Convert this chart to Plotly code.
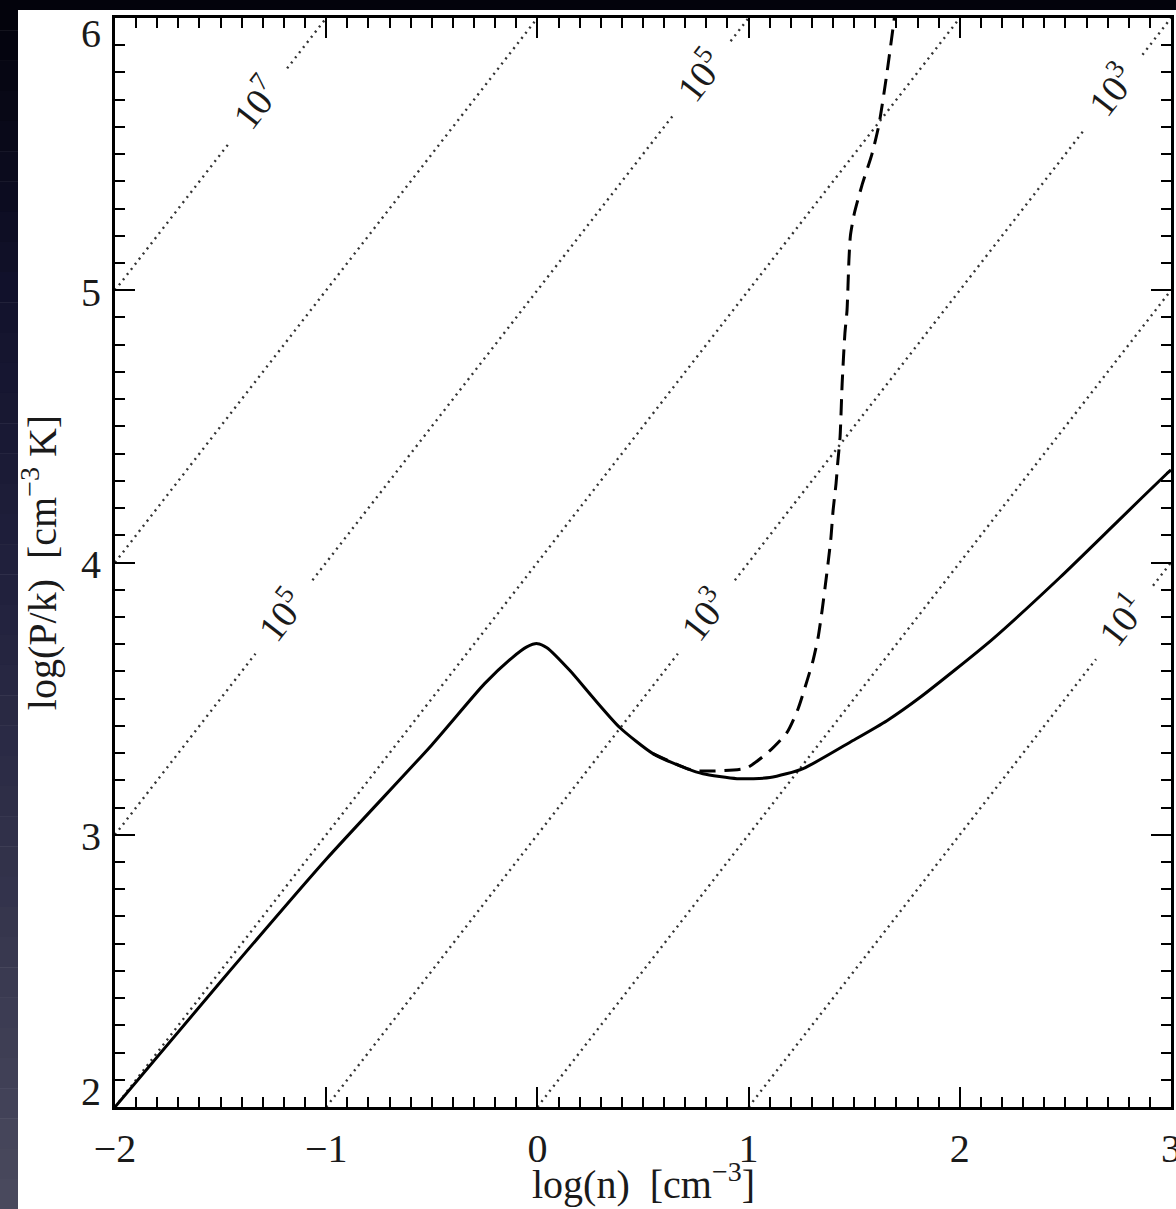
import math
import plotly.graph_objects as go

# ---------------- data ----------------
x_ticks = [-2, -1, 0, 1, 2, 3]
y_ticks = [2, 3, 4, 5, 6]
X_RANGE = [-2, 3]
Y_RANGE = [2, 6]

# thermal equilibrium curve (solid)
solid_logn = [-2.0, -1.5, -1.0, -0.5, -0.25, -0.12, -0.05, 0.0, 0.045, 0.154, 0.263,
              0.391, 0.547, 0.708, 0.784, 0.945, 1.101, 1.258, 1.494, 1.655, 1.811,
              2.15, 2.474, 2.75, 2.981, 3.0]
solid_logP = [2.0, 2.46, 2.91, 3.33, 3.555, 3.65, 3.69, 3.702, 3.687, 3.603, 3.504,
              3.393, 3.298, 3.243, 3.224, 3.206, 3.210, 3.243, 3.346, 3.419, 3.504,
              3.715, 3.945, 4.153, 4.327, 4.34]

# dashed curve
dashed_logn = [0.547, 0.708, 0.756, 0.865, 0.992, 1.101, 1.182, 1.234, 1.277, 1.305,
               1.329, 1.348, 1.362, 1.376, 1.390, 1.400, 1.414, 1.423, 1.433, 1.443,
               1.456, 1.466, 1.475, 1.482, 1.50, 1.537, 1.584, 1.617, 1.655, 1.69]
dashed_logP = [3.298, 3.243, 3.235, 3.235, 3.246, 3.309, 3.376, 3.462, 3.566, 3.640,
               3.724, 3.824, 3.908, 3.996, 4.092, 4.191, 4.290, 4.375, 4.460, 4.658,
               4.842, 4.926, 5.110, 5.20, 5.28, 5.386, 5.500, 5.607, 5.798, 6.0]

# isotherms: log T levels (P/k = n T)
iso_levels = [7, 6, 5, 4, 3, 2, 1]
iso_label_levels = [7, 5, 5, 3, 3, 1]
iso_label_logn = [-1.32, -1.20, 0.78, 0.80, 2.73, 2.78]

# ---------------- layout geometry ----------------
W, H = 1176, 1209
ML, MR, MT, MB = 115, 5, 18, 102
PW, PH = W - ML - MR, H - MT - MB
FONT = "Liberation Serif, Times New Roman, serif"
INK = "#1a1a1a"

px_per_x = PW / (X_RANGE[1] - X_RANGE[0])
px_per_y = PH / (Y_RANGE[1] - Y_RANGE[0])
label_angle = math.degrees(math.atan2(px_per_y, px_per_x))
GAP = 0.135


def pxx(p):
    return (p - ML) / PW


def pxy(p):
    return (H - MB - p) / PH


fig = go.Figure()

# isotherm dotted lines with gaps at labels
for L in iso_levels:
    xa = max(X_RANGE[0], Y_RANGE[0] - L)
    xb = min(X_RANGE[1], Y_RANGE[1] - L)
    cuts = sorted(g for lv, g in zip(iso_label_levels, iso_label_logn) if lv == L)
    xs, ys = [], []
    start = xa
    for g in cuts:
        xs += [start, g - GAP, None]
        ys += [start + L, g - GAP + L, None]
        start = g + GAP
    xs += [start, xb]
    ys += [start + L, xb + L]
    fig.add_trace(go.Scatter(x=xs, y=ys, mode="lines", name=f"T=1e{L} K",
                             line=dict(color="#333333", width=2.4, dash="2px,4.5px"),
                             hoverinfo="skip"))

fig.add_trace(go.Scatter(x=solid_logn, y=solid_logP, mode="lines", name="equilibrium",
                         line=dict(color="black", width=3, shape="spline", smoothing=0.6)))
fig.add_trace(go.Scatter(x=dashed_logn, y=dashed_logP, mode="lines", name="dashed",
                         line=dict(color="black", width=3, dash="16px,9px",
                                   shape="spline", smoothing=0.6)))

annotations = []
for lv, g in zip(iso_label_levels, iso_label_logn):
    annotations.append(dict(x=g, y=g + lv, xref="x", yref="y",
                            text=f"10<sup>{lv}</sup>", showarrow=False,
                            textangle=-label_angle, xshift=-4, yshift=3,
                            font=dict(family=FONT, size=38, color=INK)))

# y tick labels (end labels kept inside the frame, as in the original)
for i, v in enumerate(y_ticks):
    if i == 0:
        ya, ys_ = "bottom", -9
    elif i == len(y_ticks) - 1:
        ya, ys_ = "top", 9
    else:
        ya, ys_ = "middle", -2
    annotations.append(dict(x=0, y=v, xref="paper", yref="y", text=str(v),
                            showarrow=False, xanchor="right", yanchor=ya, xshift=-12,
                            yshift=ys_, font=dict(family=FONT, size=40, color=INK)))

# x axis title
annotations.append(dict(x=0.5, y=pxy(1209), xref="paper", yref="paper",
                        text="log(n)  [cm<sup>\u22123</sup>]", showarrow=False,
                        xanchor="center", yanchor="bottom",
                        font=dict(family=FONT, size=40, color=INK)))

# background: dark slide strips (gradient) around the white panel
stops = [(0, (2, 2, 10)), (300, (18, 18, 44)), (600, (34, 34, 62)),
         (900, (52, 52, 76)), (1209, (74, 74, 94))]


def col_at(p):
    for (p0, c0), (p1, c1) in zip(stops[:-1], stops[1:]):
        if p0 <= p <= p1:
            t = (p - p0) / (p1 - p0)
            return "rgb(%d,%d,%d)" % tuple(round(a + (b - a) * t) for a, b in zip(c0, c1))
    return "rgb(%d,%d,%d)" % stops[-1][1]


shapes = []
NB = 40
for k in range(NB):
    p0 = k * H / NB
    p1 = (k + 1) * H / NB
    c = col_at((p0 + p1) / 2)
    shapes.append(dict(type="rect", xref="paper", yref="paper", x0=pxx(0), x1=pxx(18),
                       y0=pxy(p1 + 0.5), y1=pxy(p0), fillcolor=c, line=dict(width=0),
                       layer="below"))
shapes.append(dict(type="rect", xref="paper", yref="paper", x0=pxx(0), x1=pxx(W),
                   y0=pxy(10), y1=pxy(0), fillcolor="rgb(3,3,12)", line=dict(width=0),
                   layer="below"))

axis_common = dict(showline=True, linewidth=3, linecolor="black", mirror="ticks",
                   ticks="inside", ticklen=20, tickwidth=2, tickcolor="black",
                   showgrid=False, zeroline=False, automargin=False,
                   minor=dict(ticks="inside", ticklen=10, tickwidth=2, tickcolor="black",
                              dtick=0.1, showgrid=False))

fig.update_layout(
    width=W, height=H,
    margin=dict(l=ML, r=MR, t=MT, b=MB, pad=0),
    template="none",
    paper_bgcolor="white", plot_bgcolor="white",
    showlegend=False,
    xaxis=dict(range=X_RANGE, tickmode="array", tickvals=x_ticks,
               ticktext=[("\u2212%d" % -v) if v < 0 else str(v) for v in x_ticks],
               tickfont=dict(family=FONT, size=40, color=INK), ticklabelstandoff=4,
               ticklabeloverflow="allow",
               **axis_common),
    yaxis=dict(range=Y_RANGE, tickmode="array", tickvals=y_ticks, showticklabels=False,
               title=dict(text="log(P/k)  [cm<sup>\u22123</sup> K]", standoff=44,
                          font=dict(family=FONT, size=40, color=INK)),
               **axis_common),
    annotations=annotations,
    shapes=shapes,
)

fig.write_html("out.html", config={"displayModeBar": False},
               post_script="document.body.style.margin='0px';")
